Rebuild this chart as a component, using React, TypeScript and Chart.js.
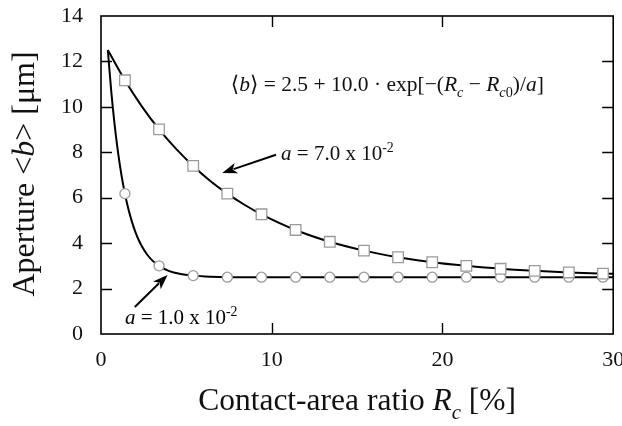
import React, { useEffect, useRef } from "react";
import { Chart, registerables } from "chart.js";

Chart.register(...registerables);

// ---- data ----
const markerX = [1.4, 3.4, 5.4, 7.4, 9.4, 11.4, 13.4, 15.4, 17.4, 19.4, 21.4, 23.4, 25.4, 27.4, 29.4];
const squareY = [11.17, 9.01, 7.4, 6.18, 5.27, 4.58, 4.06, 3.67, 3.38, 3.16, 3.0, 2.87, 2.78, 2.71, 2.66];
const circleY = [6.18, 3.0, 2.57, 2.5, 2.5, 2.5, 2.5, 2.5, 2.5, 2.5, 2.5, 2.5, 2.5, 2.5, 2.5];

const curveA7X = [0.4, 1.4, 2.4, 3.4, 4.4, 5.4, 6.4, 7.4, 8.4, 9.4, 11.4, 13.4, 15.4, 17.4, 19.4, 21.4, 23.4, 25.4, 27.4, 30];
const curveA7Y = [12.5, 11.17, 10.01, 9.01, 8.15, 7.4, 6.74, 6.18, 5.69, 5.27, 4.58, 4.06, 3.67, 3.38, 3.16, 3.0, 2.87, 2.78, 2.71, 2.65];

const curveA1X = [0.4, 0.6, 0.8, 1.0, 1.2, 1.4, 1.6, 1.8, 2.0, 2.2, 2.4, 2.7, 3.0, 3.4, 4.0, 4.6, 5.4, 6.4, 7.4, 30];
const curveA1Y = [12.5, 10.69, 9.2, 7.99, 6.99, 6.18, 5.51, 4.97, 4.52, 4.15, 3.85, 3.5, 3.24, 3.0, 2.77, 2.65, 2.57, 2.52, 2.5, 2.5];

const xRange = [0, 30];
const yRange = [0, 14];
const xStep = 10;
const yStep = 2;

const FONT = '"Liberation Serif", "Times New Roman", "DejaVu Serif", serif';

type Seg = { t: string; it?: boolean; sub?: boolean; sup?: boolean };

function segFont(s: Seg, size: number) {
  const sz = s.sub || s.sup ? size * 0.66 : size;
  return `${s.it ? "italic " : ""}${sz}px ${FONT}`;
}
function richWidth(ctx: CanvasRenderingContext2D, segs: Seg[], size: number) {
  let w = 0;
  for (const s of segs) {
    ctx.font = segFont(s, size);
    w += ctx.measureText(s.t).width;
  }
  return w;
}
function drawRich(ctx: CanvasRenderingContext2D, x: number, y: number, segs: Seg[], size: number) {
  let cx = x;
  ctx.textBaseline = "alphabetic";
  ctx.textAlign = "left";
  for (const s of segs) {
    ctx.font = segFont(s, size);
    const dy = s.sub ? size * 0.28 : s.sup ? -size * 0.38 : 0;
    ctx.fillText(s.t, cx, y + dy);
    cx += ctx.measureText(s.t).width;
  }
}
function arrow(ctx: CanvasRenderingContext2D, x1: number, y1: number, x2: number, y2: number) {
  const ang = Math.atan2(y2 - y1, x2 - x1);
  const hl = 15, hw = 5.5;
  const bx = x2 - hl * Math.cos(ang), by = y2 - hl * Math.sin(ang);
  ctx.strokeStyle = "#000";
  ctx.lineWidth = 2;
  ctx.beginPath();
  ctx.moveTo(x1, y1);
  ctx.lineTo(bx + 3 * Math.cos(ang), by + 3 * Math.sin(ang));
  ctx.stroke();
  ctx.fillStyle = "#000";
  ctx.beginPath();
  ctx.moveTo(x2, y2);
  ctx.lineTo(bx - hw * Math.sin(ang), by + hw * Math.cos(ang));
  ctx.lineTo(bx + 4 * Math.cos(ang), by + 4 * Math.sin(ang));
  ctx.lineTo(bx + hw * Math.sin(ang), by - hw * Math.cos(ang));
  ctx.closePath();
  ctx.fill();
}

const decorPlugin = {
  id: "decor",
  afterDraw(chart: any) {
    const ctx: CanvasRenderingContext2D = chart.ctx;
    const { left, right, top, bottom } = chart.chartArea;
    const xs = chart.scales.x;
    const ys = chart.scales.y;
    ctx.save();
    // frame
    ctx.strokeStyle = "#000";
    ctx.lineWidth = 1.6;
    ctx.strokeRect(left, top, right - left, bottom - top);
    // inward ticks
    ctx.lineWidth = 1.4;
    const tl = 11;
    for (const t of xs.ticks) {
      if (t.value <= xRange[0] || t.value >= xRange[1]) continue;
      const px = Math.round(xs.getPixelForValue(t.value)) + 0.5;
      ctx.beginPath();
      ctx.moveTo(px, bottom);
      ctx.lineTo(px, bottom - tl);
      ctx.moveTo(px, top);
      ctx.lineTo(px, top + tl);
      ctx.stroke();
    }
    for (const t of ys.ticks) {
      if (t.value <= yRange[0] || t.value >= yRange[1]) continue;
      const py = Math.round(ys.getPixelForValue(t.value)) + 0.5;
      ctx.beginPath();
      ctx.moveTo(left, py);
      ctx.lineTo(left + tl, py);
      ctx.moveTo(right, py);
      ctx.lineTo(right - tl, py);
      ctx.stroke();
    }
    ctx.fillStyle = "#111";
    // x title
    const xt: Seg[] = [{ t: "Contact-area ratio " }, { t: "R", it: true }, { t: "c", it: true, sub: true }, { t: " [%]" }];
    const xsz = 31.5;
    const xw = richWidth(ctx, xt, xsz);
    drawRich(ctx, (left + right) / 2 - xw / 2, 410, xt, xsz);
    // y title
    const yt: Seg[] = [{ t: "Aperture <" }, { t: "b", it: true }, { t: "> [μm]" }];
    const ysz = 32;
    const yw = richWidth(ctx, yt, ysz);
    ctx.save();
    ctx.translate(34, (top + bottom) / 2 - 1);
    ctx.rotate(-Math.PI / 2);
    drawRich(ctx, -yw / 2, 0, yt, ysz);
    ctx.restore();
    // formula
    const fsz = 21.5;
    const f: Seg[] = [
      { t: "⟨" }, { t: "b", it: true }, { t: "⟩" }, { t: " = 2.5 + 10.0 · exp[−(" },
      { t: "R", it: true }, { t: "c", it: true, sub: true }, { t: " − " },
      { t: "R", it: true }, { t: "c", it: true, sub: true }, { t: "0", sub: true },
      { t: ")/" }, { t: "a", it: true }, { t: "]" },
    ];
    drawRich(ctx, xs.getPixelForValue(7.6), ys.getPixelForValue(10.7), f, fsz);
    // annotation a = 7.0e-2
    const lsz = 21;
    const l7: Seg[] = [{ t: "a", it: true }, { t: " = 7.0 x 10" }, { t: "-2", sup: true }];
    drawRich(ctx, xs.getPixelForValue(10.55), ys.getPixelForValue(7.65), l7, lsz);
    arrow(ctx, xs.getPixelForValue(10.25), ys.getPixelForValue(7.89), xs.getPixelForValue(7.1), ys.getPixelForValue(7.09));
    const l1: Seg[] = [{ t: "a", it: true }, { t: " = 1.0 x 10" }, { t: "-2", sup: true }];
    drawRich(ctx, xs.getPixelForValue(1.4), ys.getPixelForValue(0.45), l1, lsz);
    arrow(ctx, xs.getPixelForValue(1.98), ys.getPixelForValue(1.19), xs.getPixelForValue(3.9), ys.getPixelForValue(2.6));
    ctx.restore();
  },
};

export default function App() {
  const ref = useRef<HTMLCanvasElement | null>(null);
  useEffect(() => {
    document.body.style.margin = "0";
    const c = ref.current;
    if (!c) return;
    const markerBase = {
      showLine: false,
      pointBackgroundColor: "#fff",
      pointBorderColor: "#9a9a9a",
      pointBorderWidth: 1.3,
      order: 0,
    };
    const chart = new Chart(c, {
      type: "scatter",
      data: {
        datasets: [
          {
            ...markerBase,
            label: "a=7.0e-2 markers",
            data: markerX.map((x, i) => ({ x, y: squareY[i] })),
            pointStyle: "rect",
            pointRadius: 7.5,
          },
          {
            ...markerBase,
            label: "a=1.0e-2 markers",
            data: markerX.map((x, i) => ({ x, y: circleY[i] })),
            pointStyle: "circle",
            pointRadius: 5,
          },
          {
            label: "a=7.0e-2",
            data: curveA7X.map((x, i) => ({ x, y: curveA7Y[i] })),
            showLine: true,
            borderColor: "#000",
            borderWidth: 2,
            pointRadius: 0,
            cubicInterpolationMode: "monotone",
            order: 1,
          },
          {
            label: "a=1.0e-2",
            data: curveA1X.map((x, i) => ({ x, y: curveA1Y[i] })),
            showLine: true,
            borderColor: "#000",
            borderWidth: 2,
            pointRadius: 0,
            cubicInterpolationMode: "monotone",
            order: 1,
          },
        ],
      } as any,
      options: {
        animation: false,
        responsive: true,
        maintainAspectRatio: false,
        layout: { padding: { top: 16, right: 6, left: 0, bottom: 0 } },
        plugins: { legend: { display: false }, tooltip: { enabled: false } },
        scales: {
          x: {
            type: "linear",
            min: xRange[0],
            max: xRange[1],
            ticks: { stepSize: xStep, color: "#111", font: { family: FONT, size: 22 }, padding: 5, maxRotation: 0 },
            grid: { display: false },
            border: { display: false },
            afterFit: (s: any) => {
              s.height = 426 - 334;
              s.paddingLeft = 0;
              s.paddingRight = 0;
            },
          },
          y: {
            type: "linear",
            min: yRange[0],
            max: yRange[1],
            ticks: { stepSize: yStep, color: "#111", font: { family: FONT, size: 22 }, padding: 10 },
            grid: { display: false },
            border: { display: false },
            afterFit: (s: any) => {
              s.width = 101;
              s.paddingTop = 0;
              s.paddingBottom = 0;
            },
          },
        },
      } as any,
      plugins: [decorPlugin],
    });
    return () => chart.destroy();
  }, []);
  return (
    <div style={{ position: "absolute", left: 0, top: 0, width: 622, height: 426, background: "#fff" }}>
      <canvas ref={ref} />
    </div>
  );
}
